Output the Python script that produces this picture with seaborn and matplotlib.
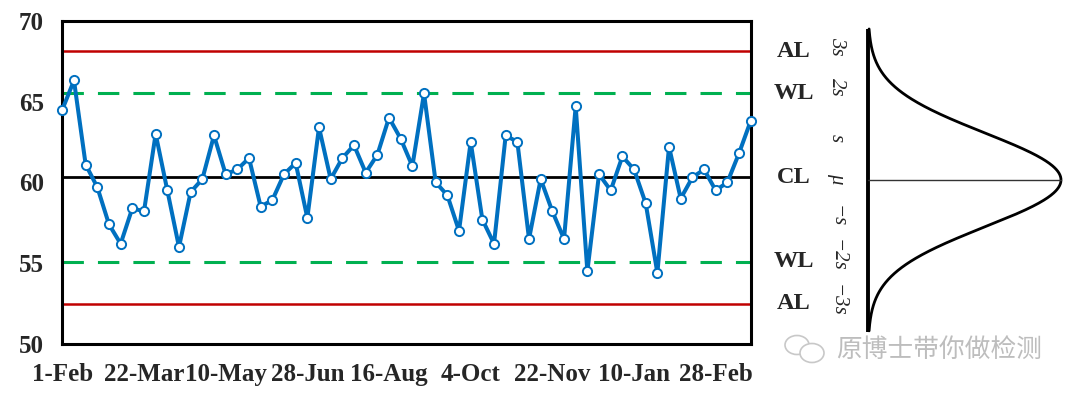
import numpy as np
import pandas as pd
import matplotlib
matplotlib.use("Agg")
import matplotlib.pyplot as plt
import seaborn as sns
from matplotlib.patches import Ellipse

# ---------------- data ----------------
start_date = "2013-02-01"
values = [64.5, 66.3, 61.1, 59.7, 57.4, 56.2, 58.4, 58.2, 63.0, 59.5,
          56.0, 59.4, 60.2, 62.9, 60.5, 60.8, 61.5, 58.5, 58.9, 60.5,
          61.2, 57.8, 63.4, 60.2, 61.5, 62.3, 60.6, 61.7, 64.0, 62.7,
          61.0, 65.5, 60.0, 59.2, 57.0, 62.5, 57.7, 56.2, 62.9, 62.5,
          56.5, 60.2, 58.2, 56.5, 64.7, 54.5, 60.5, 59.5, 61.6, 60.8,
          58.7, 54.4, 62.2, 59.0, 60.3, 60.8, 59.5, 60.0, 61.8, 63.8]
tick_labels = ["1-Feb", "22-Mar", "10-May", "28-Jun", "16-Aug",
               "4-Oct", "22-Nov", "10-Jan", "28-Feb"]
y_ticks = [50, 55, 60, 65, 70]
CL = 60.3
WL = [65.5, 55.1]
AL = [68.1, 52.5]
side_labels = ["AL", "WL", "CL", "WL", "AL"]
side_levels = [AL[0], WL[0], CL, WL[1], AL[1]]
sigma_labels = ["3s", "2s", "s", "\u03bc", "\u2212s", "\u22122s", "\u22123s"]
sigma_label_pos = [68.4, 65.9, 62.75, 60.28, 57.9, 55.5, 52.7]
watermark = "原博士带你做检测"

dates = pd.date_range(start_date, periods=len(values), freq="7D")
df = pd.DataFrame({"date": dates, "value": values})
tick_dates = pd.date_range(start_date, periods=len(tick_labels), freq="49D")

# ---------------- style ----------------
sns.set_style("white")
plt.rcParams["font.family"] = ["Liberation Serif", "DejaVu Serif"]

BLUE = "#0070C0"
GREEN = "#00B050"
RED = "#C00000"

fig = plt.figure(figsize=(10.8, 3.97), dpi=100)
fig.patch.set_facecolor("white")

ax = fig.add_axes([0.0577, 0.1335, 0.6374, 0.8144])

# reference lines
for lv in AL:
    ax.axhline(lv, color=RED, lw=1.8, zorder=1)
for lv in WL:
    ax.axhline(lv, color=GREEN, lw=2.2, dashes=(7, 4.6), zorder=1)
ax.axhline(CL, color="black", lw=2.0, zorder=1)

sns.lineplot(data=df, x="date", y="value", ax=ax, color=BLUE, linewidth=2.9,
             marker="o", markersize=6.6, markerfacecolor="white",
             markeredgecolor=BLUE, markeredgewidth=1.4, zorder=3)

ax.set_xlim(dates[0], dates[-1])
ax.set_ylim(50, 70)
ax.set_yticks(y_ticks)
ax.set_xticks(tick_dates)
ax.set_xticklabels(tick_labels)
ax.set_xlabel("")
ax.set_ylabel("")
for sp in ax.spines.values():
    sp.set_visible(True)
    sp.set_color("black")
    sp.set_linewidth(2.2)
ax.tick_params(axis="both", direction="out", length=4.8, width=0.9,
               color="#444444", labelsize=18)
ax.tick_params(axis="y", pad=8.5)
ax.tick_params(axis="x", pad=9)
for lab in ax.get_xticklabels() + ax.get_yticklabels():
    lab.set_fontweight("bold")
    lab.set_fontfamily("Liberation Serif")
for ln in ax.get_lines():
    ln.set_clip_on(False)

# ---------------- distribution panel ----------------
ax2 = fig.add_axes([868 / 1080, 0.1335, 200 / 1080, 0.8144])
ax2.set_ylim(50, 70)
ax2.set_xlim(0, 200 / 193)
ax2.axis("off")

center = 60.15
sig = 2.9
yy = np.linspace(center - 3.22 * sig, center + 3.22 * sig, 500)
xx = np.exp(-((yy - center) ** 2) / (2 * sig ** 2))
ax2.plot(xx, yy, color="black", lw=2.0, clip_on=False)
ax2.plot([0, 0], [50.73, 69.47], color="black", lw=2.8, clip_on=False,
         solid_capstyle="butt")
ax2.plot([0, 1], [center, center], color="#333333", lw=1.0, clip_on=False)

for lab, lv in zip(side_labels, side_levels):
    ax2.text(-0.385, lv, lab, ha="center", va="center", fontsize=17.5,
             fontweight="bold", family="Liberation Serif", clip_on=False)
for lab, lv in zip(sigma_labels, sigma_label_pos):
    ax2.text(-0.162, lv, lab, ha="center", va="center", fontsize=15,
             style="italic", family="Liberation Serif", rotation=-90,
             clip_on=False)

# ---------------- watermark ----------------
fig.text(836 / 1080, 1 - 350 / 397, watermark, ha="left", va="center",
         fontsize=18.5, color="#bdbdbd",
         family=["Noto Sans CJK SC", "DejaVu Sans"])
e1 = Ellipse((797 / 1080, 1 - 345 / 397), 24 / 1080, 19 / 397,
             transform=fig.transFigure, fill=False, ec="#c8c8c8", lw=1.2)
e2 = Ellipse((812 / 1080, 1 - 353 / 397), 24 / 1080, 19 / 397,
             transform=fig.transFigure, fc="white", ec="#c8c8c8", lw=1.2)
fig.add_artist(e1)
fig.add_artist(e2)

fig.savefig("out.png", dpi=100, facecolor="white")
